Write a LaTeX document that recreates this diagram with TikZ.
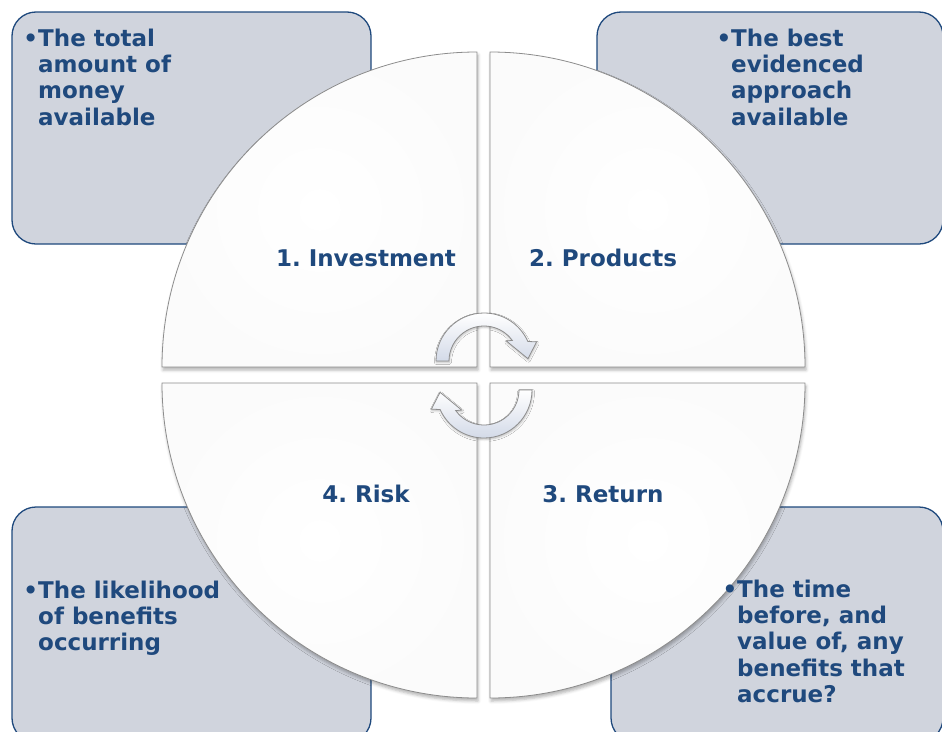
\documentclass[tikz,border=0pt]{standalone}
\usepackage{fontspec}
\setmainfont{DejaVu Sans}
\usepackage{tikz}
\usetikzlibrary{shadows.blur}

\definecolor{navy}{HTML}{1F497D}
\definecolor{boxgray}{HTML}{D0D4DD}
\definecolor{rimgray}{HTML}{8C8C8C}
\definecolor{turnblue}{HTML}{D3DAE8}

\tikzset{
	notebox/.style={draw=navy, line width=1.3pt, fill=boxgray, rounded corners=24pt},
	quarter/.style={draw=rimgray, line width=0.8pt, inner color=white, outer color=gray!3,
		blur shadow={shadow xshift=1pt, shadow yshift=-3pt, shadow blur radius=3pt, shadow opacity=30}},
	cyclearrow/.style={draw=rimgray, line width=0.8pt, top color=white, bottom color=turnblue,
		blur shadow={shadow xshift=0.5pt, shadow yshift=-1.5pt, shadow blur radius=2pt, shadow opacity=25}},
	notetext/.style={text=navy, font=\fontsize{23}{26.3}\selectfont\bfseries, align=left, anchor=north west, inner sep=0pt},
	quadlabel/.style={text=navy, font=\fontsize{23}{26.3}\selectfont\bfseries\frenchspacing, anchor=base, inner sep=0pt}
}

\begin{document}
\begin{tikzpicture}[x=1pt,y=1pt]
	\useasboundingbox (0,0) rectangle (942,-731);
	\draw[notebox] (12,-12) rectangle (371,-244);
	\draw[notebox] (597,-12) rectangle (943,-244);
	\draw[notebox] (12,-507) rectangle (371,-742);
	\draw[notebox] (611,-507) rectangle (943,-742);

	\draw[quarter] (477,-367) -- (162,-367) arc[start angle=180, end angle=90, radius=315] -- cycle;
	\draw[quarter] (490,-367) -- (490,-52) arc[start angle=90, end angle=0, radius=315] -- cycle;
	\draw[quarter] (477,-383) -- (477,-698) arc[start angle=270, end angle=180, radius=315] -- cycle;
	\draw[quarter] (490,-383) -- (805,-383) arc[start angle=0, end angle=-90, radius=315] -- cycle;

	\begin{scope}[shift={(484,-361)}]
		\draw[cyclearrow] (180:48) arc[start angle=180, end angle=24, radius=48] -- (20:56) -- (3:44) -- (42:30) -- (36:35) arc[start angle=36, end angle=180, radius=35] -- cycle;
	\end{scope}
	\begin{scope}[shift={(484,-390)}]
		\draw[cyclearrow] (0:48) arc[start angle=0, end angle=-156, radius=48] -- (200:56) -- (183:44) -- (222:30) -- (216:35) arc[start angle=216, end angle=360, radius=35] -- cycle;
	\end{scope}

	\node[quadlabel] (investment) at (366,-266) {1. Investment};
	\node[quadlabel] (products) at (603,-266) {2. Products};
	\node[quadlabel] (risk) at (366,-502) {4. Risk};
	\node[quadlabel] (return) at (603,-502) {3. Return};

	\node[notetext] (money) at (38,-28.5) {\leavevmode\llap{\textbullet}The total\\amount of\\money\\available};
	\node[notetext] (approach) at (731,-28.5) {\leavevmode\llap{\textbullet}The best\\evidenced\\approach\\available};
	\node[notetext] (likelihood) at (38,-580.5) {\leavevmode\llap{\textbullet}The likelihood\\of benefits\\occurring};
	\node[notetext] (timing) at (737,-579.5) {\leavevmode\llap{\textbullet}The time\\before, and\\value of, any\\benefits that\\accrue?};
\end{tikzpicture}
\end{document}
